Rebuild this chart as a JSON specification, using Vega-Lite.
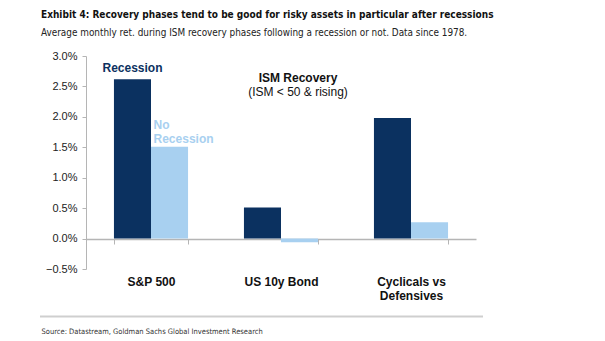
{
  "$schema": "https://vega.github.io/schema/vega-lite/v6.json",
  "width": 443,
  "height": 213,
  "autosize": {"type": "none"},
  "padding": {"left": 40, "top": 56, "right": 122, "bottom": 72},
  "background": "white",
  "title": {
    "text": "Exhibit 4: Recovery phases tend to be good for risky assets in particular after recessions",
    "subtitle": "Average monthly ret. during ISM recovery phases following a recession or not. Data since 1978.",
    "anchor": "start",
    "frame": "group",
    "dx": 1,
    "offset": 12,
    "font": "DejaVu Sans Condensed",
    "fontSize": 10,
    "fontWeight": "bold",
    "color": "#111111",
    "subtitleFont": "DejaVu Sans Condensed",
    "subtitleFontSize": 9.9,
    "subtitleColor": "#222222",
    "subtitlePadding": 8
  },
  "config": {"view": {"stroke": null}},
  "datasets": {
    "returns": [
      {"category": "S&P 500", "group": "Recession", "value": 0.0262},
      {"category": "S&P 500", "group": "No Recession", "value": 0.0151},
      {"category": "US 10y Bond", "group": "Recession", "value": 0.0051},
      {"category": "US 10y Bond", "group": "No Recession", "value": -0.0006},
      {"category": "Cyclicals vs Defensives", "group": "Recession", "value": 0.0198},
      {"category": "Cyclicals vs Defensives", "group": "No Recession", "value": 0.0027}
    ]
  },
  "layer": [
    {
      "data": {"values": [{"line": -0.0128}]},
      "mark": {"type": "rule", "clip": false, "color": "#cfcfcf", "strokeWidth": 2},
      "encoding": {"y": {"field": "line", "type": "quantitative"}}
    },
    {
      "data": {"name": "returns"},
      "mark": {"type": "bar"},
      "encoding": {
        "x": {
          "field": "category",
          "type": "nominal",
          "sort": ["S&P 500", "US 10y Bond", "Cyclicals vs Defensives"],
          "scale": {"range": [46, 436], "paddingInner": 0.43, "paddingOuter": 0.215},
          "axis": {
            "orient": "bottom",
            "offset": -30,
            "labelAngle": 0,
            "domainColor": "#b5b5b5",
            "domainWidth": 1.5,
            "tickColor": "#b5b5b5",
            "tickSize": 5,
            "tickBand": "extent",
            "labelPadding": 32,
            "labelBaseline": "top",
            "labelFont": "Liberation Sans",
            "labelFontSize": 12,
            "labelFontWeight": "bold",
            "labelColor": "#111111",
            "labelLineHeight": 14,
            "labelExpr": "datum.label == 'Cyclicals vs Defensives' ? ['Cyclicals vs', 'Defensives'] : datum.label",
            "title": "Source: Datastream, Goldman Sachs Global Investment Research",
            "titleAnchor": "start",
            "titleAlign": "left",
            "titleX": 1,
            "titleY": 92,
            "titleBaseline": "middle",
            "titleFont": "DejaVu Sans Condensed",
            "titleFontSize": 7.5,
            "titleFontWeight": "normal",
            "titleColor": "#333333"
          }
        },
        "xOffset": {
          "field": "group",
          "type": "nominal",
          "sort": ["Recession", "No Recession"],
          "scale": {"paddingInner": 0, "paddingOuter": 0}
        },
        "y": {
          "field": "value",
          "type": "quantitative",
          "scale": {"domain": [-0.005, 0.03], "nice": false, "zero": false},
          "axis": {
            "offset": -46,
            "values": [-0.005, 0, 0.005, 0.01, 0.015, 0.02, 0.025, 0.03],
            "tickCount": 8,
            "format": ".1%",
            "labelOverlap": false,
            "grid": false,
            "title": null,
            "domainColor": "#b5b5b5",
            "tickColor": "#b5b5b5",
            "tickSize": 4,
            "labelPadding": 5,
            "labelFont": "Liberation Sans",
            "labelFontSize": 11,
            "labelColor": "#222222"
          }
        },
        "color": {
          "field": "group",
          "type": "nominal",
          "scale": {"domain": ["Recession", "No Recession"], "range": ["#0B3160", "#A8D0F0"]},
          "legend": null
        }
      }
    },
    {
      "data": {"values": [{"category": "S&P 500", "group": "Recession", "value": 0.0262, "label": "Recession"}]},
      "mark": {"type": "text", "font": "Liberation Sans", "fontSize": 12, "fontWeight": "bold", "color": "#0B3160", "baseline": "bottom", "dy": -4},
      "encoding": {
        "x": {"field": "category", "type": "nominal", "sort": ["S&P 500", "US 10y Bond", "Cyclicals vs Defensives"]},
        "xOffset": {"field": "group", "type": "nominal", "sort": ["Recession", "No Recession"]},
        "y": {"field": "value", "type": "quantitative"},
        "text": {"field": "label"}
      }
    },
    {
      "data": {"values": [{"category": "S&P 500", "group": "No Recession", "value": 0.0151, "label": "No\nRecession"}]},
      "mark": {"type": "text", "font": "Liberation Sans", "fontSize": 12, "fontWeight": "bold", "color": "#A8D0F0", "baseline": "middle", "align": "left", "dx": -16, "dy": -22, "lineBreak": "\n", "lineHeight": 14},
      "encoding": {
        "x": {"field": "category", "type": "nominal", "sort": ["S&P 500", "US 10y Bond", "Cyclicals vs Defensives"]},
        "xOffset": {"field": "group", "type": "nominal", "sort": ["Recession", "No Recession"]},
        "y": {"field": "value", "type": "quantitative"},
        "text": {"field": "label"}
      }
    },
    {
      "data": {"values": [{"category": "US 10y Bond", "value": 0.0264, "label": "ISM Recovery"}]},
      "mark": {"type": "text", "font": "Liberation Sans", "fontSize": 12, "fontWeight": "bold", "color": "#111111", "baseline": "middle", "dx": 17},
      "encoding": {
        "x": {"field": "category", "type": "nominal", "sort": ["S&P 500", "US 10y Bond", "Cyclicals vs Defensives"]},
        "y": {"field": "value", "type": "quantitative"},
        "text": {"field": "label"}
      }
    },
    {
      "data": {"values": [{"category": "US 10y Bond", "value": 0.0241, "label": "(ISM < 50 & rising)"}]},
      "mark": {"type": "text", "font": "Liberation Sans", "fontSize": 12, "fontWeight": "normal", "color": "#111111", "baseline": "middle", "dx": 17},
      "encoding": {
        "x": {"field": "category", "type": "nominal", "sort": ["S&P 500", "US 10y Bond", "Cyclicals vs Defensives"]},
        "y": {"field": "value", "type": "quantitative"},
        "text": {"field": "label"}
      }
    }
  ]
}
